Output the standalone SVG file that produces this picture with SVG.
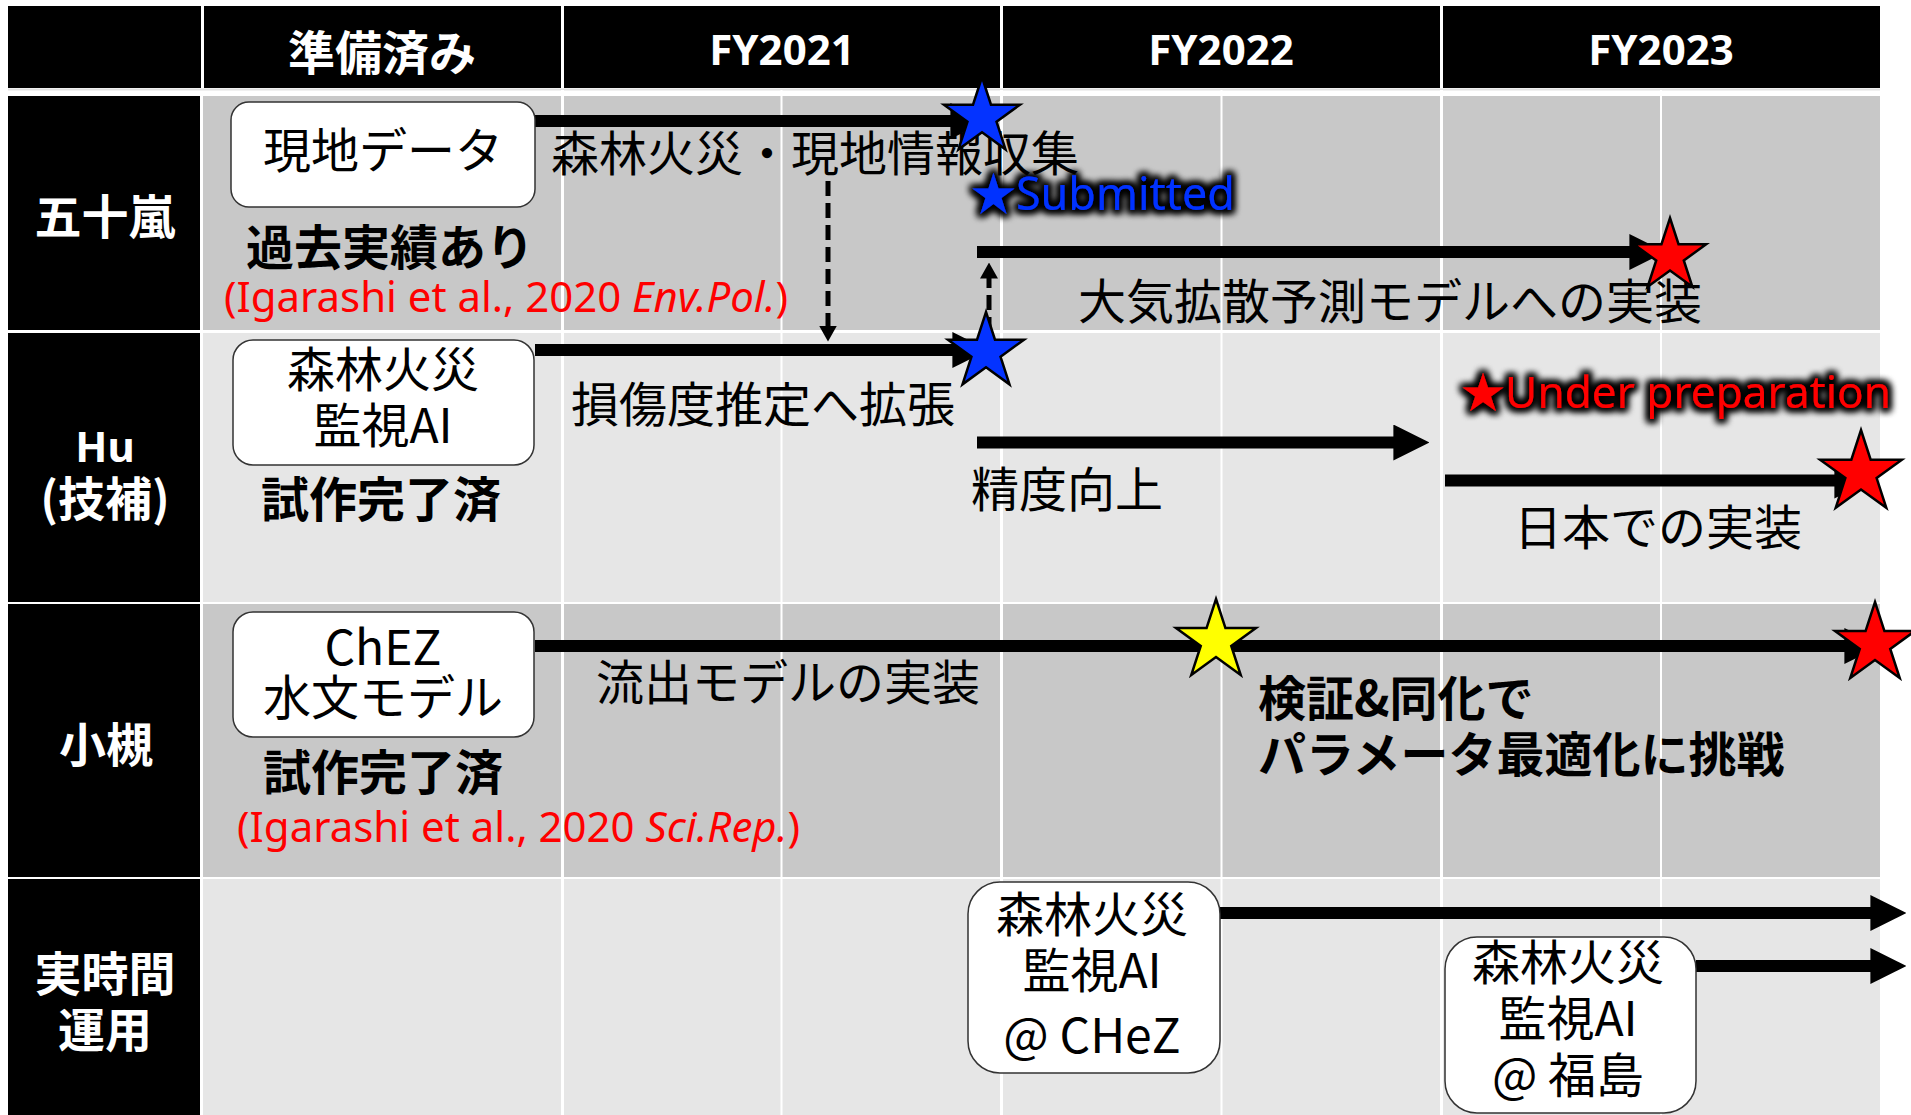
<svg xmlns="http://www.w3.org/2000/svg" xmlns:xlink="http://www.w3.org/1999/xlink" width="1911" height="1115" viewBox="0 0 1911 1115">
<defs>
<style>
.cjk{font-family:'Noto Sans CJK JP',sans-serif}
.lat{font-family:'Noto Sans','Noto Sans CJK JP',sans-serif}
.t{font-size:48px;fill:#000}
.b{font-weight:bold}
.w{fill:#fff}
.mid{text-anchor:middle}
.red{fill:#ff0000}
.box{fill:#fff;stroke:#333;stroke-width:1.5}
.hdr{fill:#000}
.dark{fill:#c8c8c8}
.light{fill:#e6e6e6}
.arrow{stroke:#000;stroke-width:12;fill:none;marker-end:url(#ah)}
.dash{stroke:#000;stroke-width:5;stroke-dasharray:15 7;fill:none;marker-end:url(#dh)}
.vl{stroke:#fff}
</style>
<marker id="ah" viewBox="0 0 3 3" markerWidth="3" markerHeight="3" refX="0.05" refY="1.5" orient="auto" markerUnits="strokeWidth"><path d="M0,0 L3,1.5 L0,3 z" fill="#000"/></marker>
<marker id="dh" viewBox="0 0 16 18" markerWidth="16" markerHeight="18" refX="0.5" refY="9" orient="auto" markerUnits="userSpaceOnUse"><path d="M0,0 L16,9 L0,18 z" fill="#000"/></marker>
<polygon id="star" points="0,-1 0.2245,-0.309 0.951,-0.309 0.3633,0.118 0.5878,0.809 0,0.382 -0.5878,0.809 -0.3633,0.118 -0.951,-0.309 -0.2245,-0.309"/>
<filter id="glow" x="-10%" y="-50%" width="120%" height="200%">
<feMorphology in="SourceAlpha" operator="dilate" radius="3" result="d"/>
<feGaussianBlur in="d" stdDeviation="3.5" result="bl"/>
<feFlood flood-color="#000" result="f"/>
<feComposite in="f" in2="bl" operator="in" result="g"/>
<feMerge><feMergeNode in="g"/><feMergeNode in="g"/><feMergeNode in="SourceGraphic"/></feMerge>
</filter>
</defs>

<rect width="1911" height="1115" fill="#fff"/>

<g id="header">
<rect class="hdr" x="8" y="6" width="193" height="82"/>
<rect class="hdr" x="204" y="6" width="357" height="82"/>
<rect class="hdr" x="564" y="6" width="436" height="82"/>
<rect class="hdr" x="1003" y="6" width="437" height="82"/>
<rect class="hdr" x="1443" y="6" width="437" height="82"/>
<text class="cjk b w mid" x="382" y="70" font-size="47">準備済み</text>
<text class="lat b w mid" x="782" y="65" font-size="42">FY2021</text>
<text class="lat b w mid" x="1221" y="65" font-size="42">FY2022</text>
<text class="lat b w mid" x="1661" y="65" font-size="42">FY2023</text>
</g>
<rect x="8" y="88.5" width="1872" height="2" fill="#e2e2e2"/>

<g id="rows">
<rect class="hdr" x="8" y="96" width="192" height="234"/>
<rect class="dark" x="203" y="96" width="1677" height="234"/>
<rect class="hdr" x="8" y="333" width="192" height="269"/>
<rect class="light" x="203" y="333" width="1677" height="269"/>
<rect class="hdr" x="8" y="604" width="192" height="273"/>
<rect class="dark" x="203" y="604" width="1677" height="273"/>
<rect class="hdr" x="8" y="879" width="192" height="236"/>
<rect class="light" x="203" y="879" width="1677" height="236"/>
<g class="vl">
<line x1="562.5" y1="90" x2="562.5" y2="1115" stroke-width="3"/>
<line x1="781.5" y1="90" x2="781.5" y2="1115" stroke-width="2"/>
<line x1="1001.5" y1="90" x2="1001.5" y2="1115" stroke-width="3"/>
<line x1="1221.5" y1="90" x2="1221.5" y2="1115" stroke-width="2"/>
<line x1="1441.5" y1="90" x2="1441.5" y2="1115" stroke-width="3"/>
<line x1="1661" y1="90" x2="1661" y2="1115" stroke-width="2"/>
</g>
<text class="cjk b w mid" x="105" y="234" font-size="47">五十嵐</text>
<text class="lat b w mid" x="105" y="462" font-size="42">Hu</text>
<text class="cjk b w mid" x="105" y="516" font-size="47">(技補)</text>
<text class="cjk b w mid" x="106" y="762" font-size="47">小槻</text>
<text class="cjk b w mid" x="105" y="991" font-size="47">実時間</text>
<text class="cjk b w mid" x="105" y="1047" font-size="47">運用</text>
</g>

<g id="connectors">
<line class="arrow" x1="535" y1="121" x2="951" y2="121"/>
<line class="arrow" x1="535" y1="350" x2="953" y2="350"/>
<line class="arrow" x1="977" y1="252" x2="1630" y2="252"/>
<line class="arrow" x1="977" y1="442.5" x2="1394" y2="442.5"/>
<line class="arrow" x1="1445" y1="480.5" x2="1835" y2="480.5"/>
<line class="arrow" x1="535" y1="646" x2="1845" y2="646"/>
<line class="arrow" x1="1220" y1="913" x2="1871" y2="913"/>
<line class="arrow" x1="1696" y1="966" x2="1871" y2="966"/>
<line class="dash" x1="828" y1="181" x2="828" y2="326"/>
<line class="dash" x1="989" y1="332" x2="989" y2="278"/>
</g>

<g id="node-genchi">
<rect class="box" x="231" y="102" width="304" height="105" rx="18"/>
<text class="cjk t mid" x="383" y="168">現地データ</text>
</g>
<g id="note-kako">
<text class="cjk t b mid" x="390" y="265">過去実績あり</text>
<text class="lat red" x="224" y="312" font-size="42" textLength="564" lengthAdjust="spacingAndGlyphs">(Igarashi et al., 2020 <tspan font-style="italic">Env.Pol.</tspan>)</text>
</g>
<g id="node-ai">
<rect class="box" x="233" y="340" width="301" height="125" rx="20"/>
<text class="cjk t mid" x="383" y="387">森林火災</text>
<text class="cjk t mid" x="383" y="443">監視AI</text>
<text class="cjk t b mid" x="381" y="517">試作完了済</text>
</g>
<g id="node-chez">
<rect class="box" x="233" y="612" width="301" height="125" rx="20"/>
<text class="cjk t mid" x="383" y="665">ChEZ</text>
<text class="cjk t mid" x="383" y="715">水文モデル</text>
<text class="cjk t b mid" x="383" y="790">試作完了済</text>
<text class="lat red" x="237" y="842" font-size="42" textLength="563" lengthAdjust="spacingAndGlyphs">(Igarashi et al., 2020 <tspan font-style="italic">Sci.Rep.</tspan>)</text>
</g>
<g id="node-ai-chez">
<rect class="box" x="968" y="882" width="252" height="191" rx="32"/>
<text class="cjk t mid" x="1092" y="932">森林火災</text>
<text class="cjk t mid" x="1092" y="988">監視AI</text>
<text class="cjk t mid" x="1092" y="1053">@ CHeZ</text>
</g>
<g id="node-ai-fukushima">
<rect class="box" x="1445" y="937" width="251" height="176" rx="32"/>
<text class="cjk t mid" x="1568" y="980">森林火災</text>
<text class="cjk t mid" x="1568" y="1036">監視AI</text>
<text class="cjk t mid" x="1568" y="1093">@ 福島</text>
</g>

<g id="labels">
<text class="cjk t" x="551" y="171">森林火災・現地情報収集</text>
<text class="cjk t mid" x="1390" y="319">大気拡散予測モデルへの実装</text>
<text class="cjk t mid" x="763" y="422">損傷度推定へ拡張</text>
<text class="cjk t" x="971" y="507">精度向上</text>
<text class="cjk t mid" x="1658" y="545">日本での実装</text>
<text class="cjk t mid" x="788" y="700">流出モデルの実装</text>
<text class="cjk t b" x="1258" y="716">検証&amp;同化で</text>
<text class="cjk t b" x="1258" y="772">パラメータ最適化に挑戦</text>
<text class="lat" x="971" y="210" font-size="46" fill="#0433ff" filter="url(#glow)" textLength="264" lengthAdjust="spacingAndGlyphs">★Submitted</text>
<text class="lat" x="1461" y="408" font-size="43" fill="#ff0000" filter="url(#glow)" textLength="430" lengthAdjust="spacingAndGlyphs">★Under preparation</text>
</g>

<g id="stars" stroke="#000">
<use xlink:href="#star" transform="translate(982 117) scale(40)" fill="#0433ff" stroke-width="0.0625"/>
<use xlink:href="#star" transform="translate(986 352) scale(40)" fill="#0433ff" stroke-width="0.0625"/>
<use xlink:href="#star" transform="translate(1670 256) scale(38)" fill="#ff0000" stroke-width="0.066"/>
<use xlink:href="#star" transform="translate(1861 473) scale(43)" fill="#ff0000" stroke-width="0.058"/>
<use xlink:href="#star" transform="translate(1216 641) scale(42)" fill="#ffff00" stroke-width="0.06"/>
<use xlink:href="#star" transform="translate(1875 644) scale(42)" fill="#ff0000" stroke-width="0.06"/>
</g>
</svg>
